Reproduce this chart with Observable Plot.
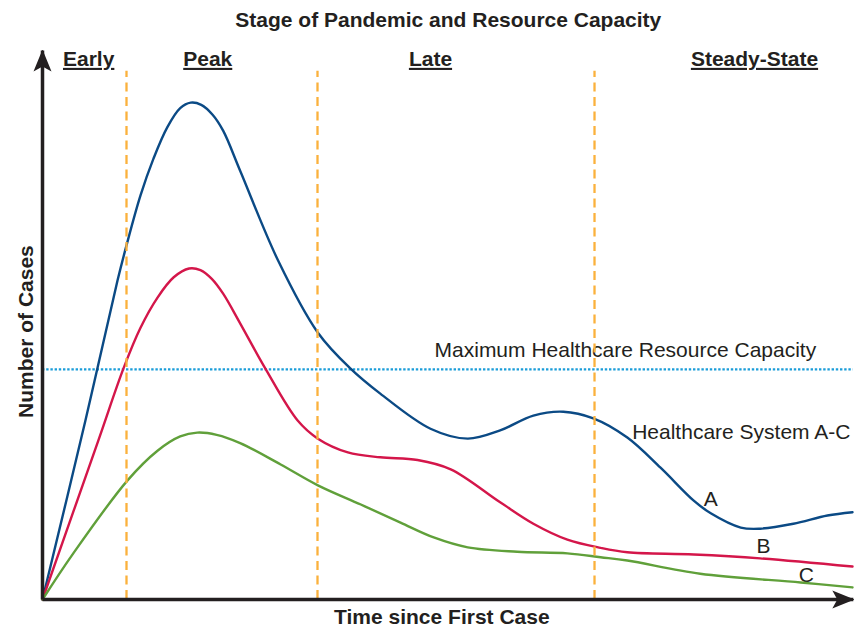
<!DOCTYPE html>
<html>
<head>
<meta charset="utf-8">
<script src="https://cdn.jsdelivr.net/npm/d3@7"></script>
<script src="https://cdn.jsdelivr.net/npm/@observablehq/plot@0.6"></script>
<style>
  html, body { margin: 0; padding: 0; background: #fff; }
</style>
</head>
<body>
<div id="chart"></div>
<script>
// ---- Data (arbitrary units 0–100) ----
const titleText = "Stage of Pandemic and Resource Capacity";
const xLabel = "Time since First Case";
const yLabel = "Number of Cases";

const stageNames = ["Early", "Peak", "Late", "Steady-State"];
const stageCenters = [5.7, 20.4, 47.9, 87.9];
const stageBoundaries = [10.37, 33.95, 68.15];

const capacityLevel = 41.9;
const capacityLabel = "Maximum Healthcare Resource Capacity";
const systemLabel = "Healthcare System A-C";

// Healthcare System A (blue)
const timeA  = [0, 5.3, 9.26, 10.37, 12.1, 13.7, 15.4, 17.0, 18.3, 19.6, 21.0, 22.3, 24.4, 29.1, 34.0, 38.0, 41.7, 47.9, 52.5, 56.5, 60.6, 64.3, 68.0, 72.2, 76.3, 80.4, 82.5, 86.2, 88.6, 92.7, 96.9, 100];
const casesA = [0, 32.6, 58.1, 64.5, 73.6, 80.3, 86.0, 89.5, 90.5, 90.1, 88.3, 85.4, 78.1, 61.7, 48.6, 42.1, 37.5, 31.1, 29.3, 30.8, 33.5, 34.2, 33.0, 29.5, 24.0, 18.0, 15.7, 13.1, 12.9, 13.8, 15.3, 15.9];

// Healthcare System B (red)
const timeB  = [0, 6.9, 10.0, 12.1, 14.2, 16.2, 18.1, 19.5, 20.9, 22.3, 24.4, 27.5, 31.5, 34.0, 37.7, 41.7, 46.3, 50.4, 56.5, 60.6, 64.8, 68.9, 72.2, 80.4, 88.6, 100];
const casesB = [0, 29.0, 42.1, 49.5, 55.0, 58.7, 60.3, 60.0, 58.4, 55.7, 50.3, 42.1, 32.6, 29.3, 26.8, 25.9, 25.4, 23.7, 17.7, 13.8, 10.9, 9.4, 8.6, 8.2, 7.5, 6.0];

// Healthcare System C (green)
const timeC  = [0, 3.8, 10.5, 14.2, 17.0, 19.1, 21.5, 24.4, 29.4, 34.0, 39.3, 44.2, 48.3, 52.5, 58.6, 64.8, 68.9, 72.2, 81.2, 93.6, 100];
const casesC = [0, 8.4, 21.7, 27.1, 29.7, 30.4, 30.0, 28.5, 24.6, 20.8, 17.3, 14.0, 11.3, 9.5, 8.7, 8.4, 7.7, 7.1, 4.7, 3.1, 2.2];

const systems = ["A", "B", "C"];
const systemColors = ["#0b4a85", "#d4164a", "#60a03a"];
const systemLabelX = [82.5, 89.0, 94.3];
const systemLabelY = [17.1, 8.4, 3.15];

// ---- Build tables ----
const series = [
  ...timeA.map((t, i) => ({system: "A", t, cases: casesA[i]})),
  ...timeB.map((t, i) => ({system: "B", t, cases: casesB[i]})),
  ...timeC.map((t, i) => ({system: "C", t, cases: casesC[i]}))
];
const stages = stageNames.map((name, i) => ({name, x: stageCenters[i]}));
const sysLabels = systems.map((s, i) => ({s, x: systemLabelX[i], y: systemLabelY[i]}));
const axes = [
  {x1: 0, y1: 0, x2: 0, y2: 100},
  {x1: 0, y1: 0, x2: 100.1, y2: 0}
];

const ink = "#231f20";
const font = "'Liberation Sans', Arial, Helvetica, sans-serif";

const chart = Plot.plot({
  width: 855,
  height: 628,
  marginLeft: 42,
  marginRight: 3,
  marginTop: 50,
  marginBottom: 29,
  style: {fontFamily: font, background: "#fff", overflow: "visible"},
  x: {domain: [0, 100], axis: null},
  y: {domain: [0, 100], axis: null},
  color: {domain: systems, range: systemColors},
  marks: [
    // title
    Plot.text([titleText], {x: 50.1, y: 104.2, text: d => d, lineAnchor: "bottom", fontSize: 21, fontWeight: "bold", fill: ink}),
    // stage headers
    Plot.text(stages, {x: "x", y: 97.2, text: "name", lineAnchor: "bottom", fontSize: 21, fontWeight: "bold", fill: ink}),
    // capacity labels
    Plot.text([capacityLabel], {x: 48.4, y: 44.1, text: d => d, textAnchor: "start", lineAnchor: "bottom", fontSize: 21, fill: ink}),
    Plot.text([systemLabel], {x: 72.8, y: 29.3, text: d => d, textAnchor: "start", lineAnchor: "bottom", fontSize: 21, fill: ink}),
    Plot.text(sysLabels, {x: "x", y: "y", text: "s", lineAnchor: "bottom", fontSize: 21, fill: ink}),
    // axis titles
    Plot.text([xLabel], {x: 49.3, y: -4.55, text: d => d, lineAnchor: "bottom", fontSize: 21, fontWeight: "bold", fill: ink}),
    Plot.text([yLabel], {x: -1.23, y: 48.8, text: d => d, rotate: -90, lineAnchor: "bottom", fontSize: 21, fontWeight: "bold", fill: ink}),
    // capacity line
    Plot.ruleY([capacityLevel], {x1: 0, x2: 100.1, stroke: "#1b9dd9", strokeWidth: 2.3, strokeDasharray: "2.4,1.8"}),
    // curves
    Plot.line(series, {x: "t", y: "cases", z: "system", stroke: "system", curve: "catmull-rom", strokeWidth: 2.4}),
    // stage boundaries
    Plot.ruleX(stageBoundaries, {y1: 0, y2: 96.2, stroke: "#fbb13c", strokeWidth: 2.3, strokeDasharray: "9,5.5"}),
    // axes with arrows
    Plot.link(axes, {x1: "x1", y1: "y1", x2: "x2", y2: "y2", stroke: ink, strokeWidth: 3.5, strokeLinecap: "square"})
  ]
});

const svg = d3.select(chart);
svg.append("defs").html(
  `<marker id="ax-arrow" viewBox="0 -10 22 20" refX="21" refY="0" markerWidth="22" markerHeight="20" markerUnits="userSpaceOnUse" orient="auto">
     <path d="M0,-9L22,0L0,9L5,0Z" fill="${ink}"></path>
   </marker>`
);
svg.selectAll('g[aria-label="link"] path').attr("marker-end", "url(#ax-arrow)").attr("stroke-linecap", "butt");
svg.selectAll("text")
  .filter(function() { return stageNames.includes(this.textContent); })
  .style("text-decoration", "underline");

document.getElementById("chart").appendChild(chart);
</script>
</body>
</html>
